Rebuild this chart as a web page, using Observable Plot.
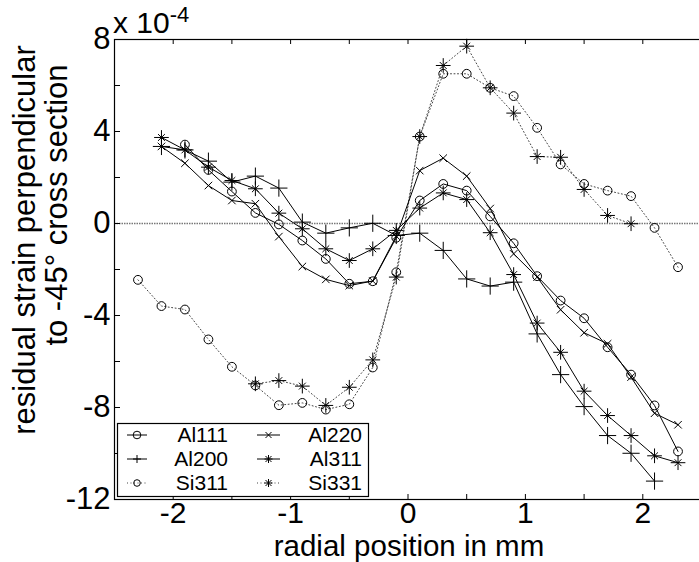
<!DOCTYPE html>
<html><head><meta charset="utf-8">
<script src="https://cdn.jsdelivr.net/npm/d3@7"></script>
<script src="https://cdn.jsdelivr.net/npm/@observablehq/plot@0.6"></script>
<style>body{margin:0;background:#fff;overflow:hidden} #chart{position:relative}</style>
</head><body><div id="chart"></div>
<script>
// radial positions (mm) and strain values (x 10^-4)
const xAl111 = [-1.9,-1.7,-1.5,-1.3,-1.1,-0.9,-0.7,-0.5,-0.3,-0.1,0.1,0.3,0.5,0.7,0.9,1.1,1.3,1.5,1.7,1.9,2.1,2.3];
const yAl111 = [3.43,2.33,1.39,0.46,-0.04,-0.74,-1.54,-2.62,-2.51,-0.62,1.0,1.72,1.43,0.31,-0.86,-2.29,-3.35,-4.12,-5.38,-6.57,-7.91,-9.91];

const xAl200 = [-2.1,-1.9,-1.7,-1.5,-1.3,-1.1,-0.9,-0.7,-0.5,-0.3,-0.1,0.1,0.3,0.5,0.7,0.9,1.1,1.3,1.5,1.7,1.9,2.1];
const yAl200 = [3.35,3.2,2.71,1.8,2.06,1.54,0.06,-0.42,-0.19,0.01,-0.52,-0.42,-1.17,-2.41,-2.72,-2.55,-4.8,-6.57,-7.96,-9.22,-9.99,-11.2];

const xAl220 = [-2.1,-1.9,-1.7,-1.5,-1.3,-1.1,-0.9,-0.7,-0.5,-0.3,-0.1,0.1,0.3,0.5,0.7,0.9,1.1,1.3,1.5,1.7,1.9,2.1,2.3];
const yAl220 = [3.35,2.62,1.65,1.0,0.86,-0.57,-1.87,-2.43,-2.7,-2.5,-0.55,2.3,2.84,2.06,0.65,-1.32,-2.33,-3.75,-4.75,-5.23,-6.68,-8.25,-8.75];

const xAl311 = [-2.1,-1.9,-1.7,-1.5,-1.3,-1.1,-0.9,-0.7,-0.5,-0.3,-0.1,0.1,0.3,0.5,0.7,0.9,1.1,1.3,1.5,1.7,1.9,2.1,2.3];
const yAl311 = [3.74,3.2,2.45,1.87,1.51,0.45,-0.23,-1.1,-1.61,-1.1,-0.3,0.67,1.33,1.04,-0.4,-2.22,-4.33,-5.6,-7.29,-8.35,-9.22,-10.1,-10.4];

const xSi311 = [-2.3,-2.1,-1.9,-1.7,-1.5,-1.3,-1.1,-0.9,-0.7,-0.5,-0.3,-0.1,0.1,0.3,0.5,0.7,0.9,1.1,1.3,1.5,1.7,1.9,2.1,2.3];
const ySi311 = [-2.45,-3.59,-3.74,-5.04,-6.23,-7.04,-7.9,-7.8,-8.09,-7.86,-6.26,-2.12,3.78,6.51,6.51,5.9,5.54,4.16,2.57,1.72,1.43,1.19,-0.19,-1.9];

const xSi331 = [-1.3,-1.1,-0.9,-0.7,-0.5,-0.3,-0.1,0.1,0.3,0.5,0.7,0.9,1.1,1.3,1.5,1.7,1.9];
const ySi331 = [-6.97,-6.83,-7.07,-7.91,-7.12,-5.93,-2.33,3.78,6.87,7.71,5.9,4.8,2.91,2.88,1.48,0.35,-0.01];

const seriesNames = ["Al111","Al220","Al200","Al311","Si311","Si331"];
const xTickLabels = [-2,-1,0,1,2];
const xTickMarks = [-2.5,-2,-1.5,-1,-0.5,0,0.5,1,1.5,2,2.5];
const yTickLabels = [-12,-8,-4,0,4,8];
const yTickMarks = [-12,-10,-8,-6,-4,-2,0,2,4,6,8];
const xLabel = "radial position in mm";
const yLabel1 = "residual strain perpendicular";
const yLabel2 = "to -45° cross section";

const FONT = "'Liberation Sans', Arial, Helvetica, sans-serif";
const toRows = (name, xs, ys) => xs.map((x, i) => ({series: name, x, y: ys[i]}));
const data = {
  Al111: toRows("Al111", xAl111, yAl111),
  Al200: toRows("Al200", xAl200, yAl200),
  Al220: toRows("Al220", xAl220, yAl220),
  Al311: toRows("Al311", xAl311, yAl311),
  Si311: toRows("Si311", xSi311, ySi311),
  Si331: toRows("Si331", xSi331, ySi331)
};
const solid = {stroke: "#000", strokeWidth: 1};
const dotted = {stroke: "#444", strokeWidth: 1, strokeDasharray: "1,2.5"};
const sym = (rows, symbol, r) => Plot.dot(rows, {x: "x", y: "y", symbol, r, stroke: "#000", fill: symbol === "circle" ? "none" : null, strokeWidth: 1});

const W = 699, H = 562, ML = 114, MR = -2, MT = 39, MB = 63;
const plotW = W - ML - MR, plotH = H - MT - MB;

const chart = Plot.plot({
  width: W, height: H,
  marginLeft: ML, marginRight: MR, marginTop: MT, marginBottom: MB,
  style: {fontFamily: FONT, background: "#fff", color: "#000"},
  x: {domain: [-2.5, 2.5]},
  y: {domain: [-12, 8]},
  marks: [
    Plot.ruleY([0], {stroke: "#777", strokeWidth: 1.6, strokeDasharray: "1.5,1"}),
    Plot.line(data.Si311, {x: "x", y: "y", ...dotted}),
    Plot.line(data.Si331, {x: "x", y: "y", ...dotted}),
    Plot.line(data.Al111, {x: "x", y: "y", ...solid}),
    Plot.line(data.Al200, {x: "x", y: "y", ...solid}),
    Plot.line(data.Al220, {x: "x", y: "y", ...solid}),
    Plot.line(data.Al311, {x: "x", y: "y", ...solid}),
    sym(data.Si311, "circle", 4.4),
    sym(data.Si331, "plus", 4.8),
    sym(data.Si331, "times", 3.2),
    sym(data.Al111, "circle", 4.4),
    sym(data.Al200, "plus", 5.6),
    sym(data.Al220, "times", 3.5),
    sym(data.Al311, "plus", 4.8),
    sym(data.Al311, "times", 3.2),
    Plot.frame({stroke: "#000", strokeWidth: 1.2}),
    Plot.tickX(xTickMarks, {x: d => d, insetTop: plotH - 5, stroke: "#000"}),
    Plot.tickX(xTickMarks, {x: d => d, insetBottom: plotH - 5, stroke: "#000"}),
    Plot.tickY(yTickMarks, {y: d => d, insetRight: plotW - 6, stroke: "#000"}),
    Plot.axisX(xTickLabels, {tickSize: 0, tickPadding: 2, fontSize: 30, tickFormat: d => String(d), label: null}),
    Plot.axisY(yTickLabels, {tickSize: 0, tickPadding: 4, fontSize: 31, tickFormat: d => String(d), label: null})
  ]
});
document.getElementById("chart").appendChild(chart);

// axis titles, exponent label and legend (annotations, not data)
const svg = d3.select(chart);
svg.append("text").attr("x", 409).attr("y", 556).attr("text-anchor", "middle")
  .attr("font-family", FONT).attr("font-size", 29.5).attr("fill", "#000").text(xLabel);
svg.append("text").attr("transform", "translate(35,240) rotate(-90)").attr("text-anchor", "middle")
  .attr("font-family", FONT).attr("font-size", 31).attr("fill", "#000").text(yLabel1);
svg.append("text").attr("transform", "translate(67,205) rotate(-90)").attr("text-anchor", "middle")
  .attr("font-family", FONT).attr("font-size", 31).attr("fill", "#000").text(yLabel2);

const ex = svg.append("text").attr("x", 113).attr("y", 33).attr("text-anchor", "start")
  .attr("font-family", FONT).attr("font-size", 30).attr("fill", "#000");
ex.append("tspan").text("x 10");
ex.append("tspan").attr("font-size", 22).attr("dy", -11).text("-4");

const lg = svg.append("g").attr("font-family", FONT);
lg.append("rect").attr("x", 117.5).attr("y", 423.5).attr("width", 251).attr("height", 73).attr("fill", "#fff").attr("stroke", "#000").attr("stroke-width", 1.2);
const items = [
  {name: "Al111", col: 0, row: 0, dash: null, marks: ["circle"]},
  {name: "Al220", col: 1, row: 0, dash: null, marks: ["times"]},
  {name: "Al200", col: 0, row: 1, dash: null, marks: ["plus"]},
  {name: "Al311", col: 1, row: 1, dash: null, marks: ["plus", "times"]},
  {name: "Si311", col: 0, row: 2, dash: "1,2.5", marks: ["circle"]},
  {name: "Si331", col: 1, row: 2, dash: "1,2.5", marks: ["plus", "times"]}
];
const colSample = [[127, 147], [257, 280]];
const colTextEnd = [228, 362];
items.forEach(it => {
  const cy = 435 + it.row * 24;
  const [x0, x1] = colSample[it.col];
  const cx = (x0 + x1) / 2;
  lg.append("line").attr("x1", x0).attr("x2", x1).attr("y1", cy).attr("y2", cy)
    .attr("stroke", it.dash ? "#444" : "#000").attr("stroke-width", 1).attr("stroke-dasharray", it.dash);
  it.marks.forEach(m => {
    if (m === "circle") lg.append("circle").attr("cx", cx).attr("cy", cy).attr("r", it.dash ? 3.3 : 3.8).attr("fill", "none").attr("stroke", "#000");
    if (m === "plus") lg.append("path").attr("d", `M${cx-4},${cy}H${cx+4}M${cx},${cy-4}V${cy+4}`).attr("stroke", "#000");
    if (m === "times") lg.append("path").attr("d", `M${cx-3},${cy-3}L${cx+3},${cy+3}M${cx-3},${cy+3}L${cx+3},${cy-3}`).attr("stroke", "#000");
  });
  lg.append("text").attr("x", colTextEnd[it.col]).attr("y", cy + 7).attr("text-anchor", "end").attr("font-size", 21).attr("fill", "#000").text(it.name);
});
</script>
</body></html>
